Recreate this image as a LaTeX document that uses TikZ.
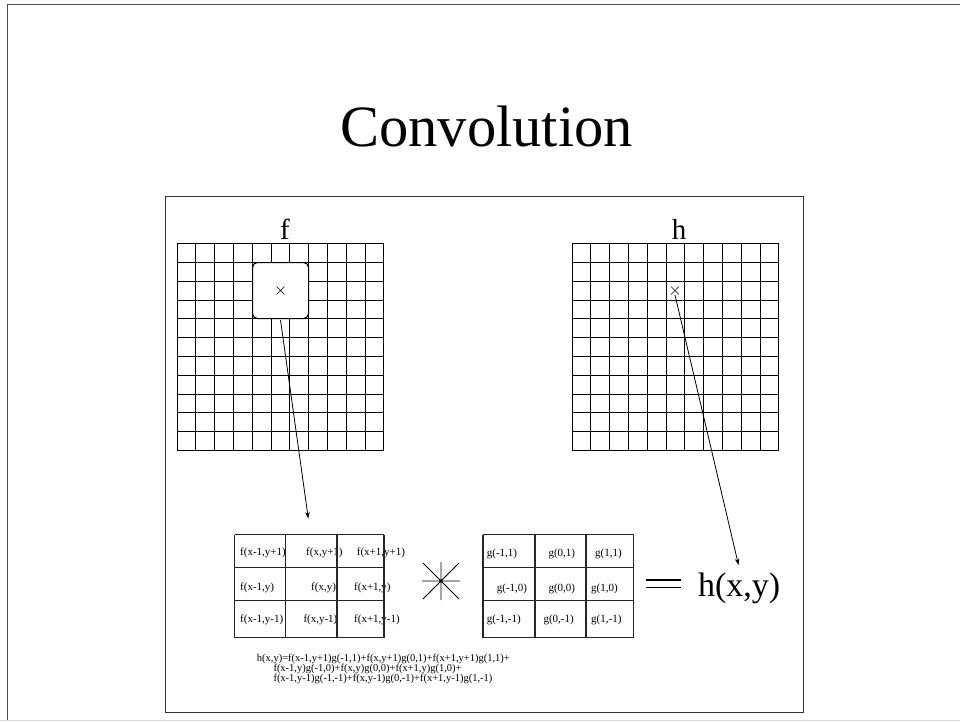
\documentclass[tikz,border=0pt]{standalone}
\usepackage{fontspec}
\setmainfont{Liberation Serif}
\usetikzlibrary{arrows.meta,calc}
\begin{document}
\begin{tikzpicture}[x=1pt,y=-1pt,
  gridline/.style={line width=1pt, black},
  matline/.style={line width=1.3pt, black!85},
  cell/.style={anchor=west, inner sep=0pt, font=\fontsize{11}{13}\selectfont},
  formula/.style={anchor=west, inner sep=0pt, font=\fontsize{10.5}{12}\selectfont},
  ptr/.style={line width=0.8pt, -{Stealth[length=6.5pt,width=4.5pt]}},
  xmark/.style={line width=0.6pt}]
\useasboundingbox (0,0) rectangle (960,721);
\fill[white] (0,0) rectangle (960,721);
% slide frame
\draw[line width=1.2pt, black!70] (7.3,721) -- (7.3,4.5) -- (960,4.5);
\draw[line width=1pt, black!15] (0,720.5) -- (960,720.5);
% title
\node[anchor=base, inner sep=0pt, font=\fontsize{58.5}{60}\selectfont] (title) at (486.7,146.7) {Convolution};
% inner box
\draw[line width=1.3pt, black!80] (165.7,196.7) rectangle (803.3,712.3);
% grid labels
\node[anchor=base, inner sep=0pt, font=\fontsize{29}{32}\selectfont] (flabel) at (285,239.3) {f};
\node[anchor=base, inner sep=0pt, font=\fontsize{29}{32}\selectfont] (hlabel) at (679,239.3) {h};
% f grid
\foreach \i in {0,...,11} {
  \pgfmathsetmacro{\gx}{round(176.7+\i*18.79)+0.5}
  \pgfmathsetmacro{\gy}{round(243.3+\i*18.79)+0.5}
  \draw[gridline] (\gx,243) -- (\gx,451);
  \draw[gridline] (177,\gy) -- (384,\gy);
}
% h grid
\foreach \i in {0,...,11} {
  \pgfmathsetmacro{\gx}{round(571.7+\i*18.79)+0.5}
  \pgfmathsetmacro{\gy}{round(243.3+\i*18.79)+0.5}
  \draw[gridline] (\gx,243) -- (\gx,451);
  \draw[gridline] (572,\gy) -- (779,\gy);
}
% neighbourhood window in f
\draw[gridline, fill=white, rounded corners=5pt] (252.5,262.5) rectangle (308.5,318.5);
% x marks
\coordinate (fx) at (280.5,290.5);
\coordinate (hx) at (675,290.5);
\draw[xmark] ($(fx)+(-4,-4)$) -- ($(fx)+(4,4)$) ($(fx)+(-4,4)$) -- ($(fx)+(4,-4)$);
\draw[xmark] ($(hx)+(-4,-4)$) -- ($(hx)+(4,4)$) ($(hx)+(-4,4)$) -- ($(hx)+(4,-4)$);
% f neighbourhood matrix texts
\node[cell] (f11) at (240,553.3) {f(x-1,y+1)};
\node[cell] (f12) at (306,553.3) {f(x,y+1)};
\node[cell] (f13) at (356.7,553.3) {f(x+1,y+1)};
\node[cell] (f21) at (240,588.3) {f(x-1,y)};
\node[cell] (f22) at (311,588.3) {f(x,y)};
\node[cell] (f23) at (354,588.3) {f(x+1,y)};
\node[cell] (f31) at (240,619.3) {f(x-1,y-1)};
\node[cell] (f32) at (303.3,619.3) {f(x,y-1)};
\node[cell] (f33) at (354,619.3) {f(x+1,y-1)};
% f matrix lines
\foreach \x in {234.5,285.5,337,384} \draw[matline] (\x,534.5) -- (\x,637.8);
\foreach \y in {534.5,567.8,600.3,637.8} \draw[matline] (234.5,\y) -- (384,\y);
% g matrix texts
\node[cell] (g11) at (486.7,554.3) {g(-1,1)};
\node[cell] (g12) at (548.3,554.3) {g(0,1)};
\node[cell] (g13) at (595,554.3) {g(1,1)};
\node[cell] (g21) at (496.7,589.3) {g(-1,0)};
\node[cell] (g22) at (548.3,589.3) {g(0,0)};
\node[cell] (g23) at (591,589.3) {g(1,0)};
\node[cell] (g31) at (486.7,620) {g(-1,-1)};
\node[cell] (g32) at (543.3,620) {g(0,-1)};
\node[cell] (g33) at (591,620) {g(1,-1)};
\foreach \x in {483,535,586,633.5} \draw[matline] (\x,534.5) -- (\x,637.8);
\foreach \y in {534.5,567.8,600.3,637.8} \draw[matline] (483,\y) -- (633.5,\y);
% convolution star
\coordinate (star) at (441,581);
\draw[line width=0.8pt] ($(star)+(-19,0)$) -- ($(star)+(19,0)$)
  ($(star)+(0,-19)$) -- ($(star)+(0,19)$)
  ($(star)+(-18,-18)$) -- ($(star)+(18,18)$)
  ($(star)+(-18,18)$) -- ($(star)+(18,-18)$);
% equals
\draw[line width=1.2pt] (646,580) -- (680.7,580) (646,587.7) -- (680.7,587.7);
% result
\node[anchor=base west, inner sep=0pt, font=\fontsize{34}{38}\selectfont] (hxy) at (697.8,596.7) {h(x,y)};
% formula
\node[formula] (l1) at (256.7,659.3) {h(x,y)=f(x-1,y+1)g(-1,1)+f(x,y+1)g(0,1)+f(x+1,y+1)g(1,1)+};
\node[formula] (l2) at (273.3,669.3) {f(x-1,y)g(-1,0)+f(x,y)g(0,0)+f(x+1,y)g(1,0)+};
\node[formula] (l3) at (273.3,679) {f(x-1,y-1)g(-1,-1)+f(x,y-1)g(0,-1)+f(x+1,y-1)g(1,-1)};
% arrows
\coordinate (fsrc) at (280.5,320);
\coordinate (fdst) at (308.3,518.5);
\coordinate (hsrc) at (675,295);
\coordinate (hdst) at (738.5,565);
\draw[ptr] (fsrc) -- (fdst);
\draw[ptr] (hsrc) -- (hdst);
\end{tikzpicture}
\end{document}
